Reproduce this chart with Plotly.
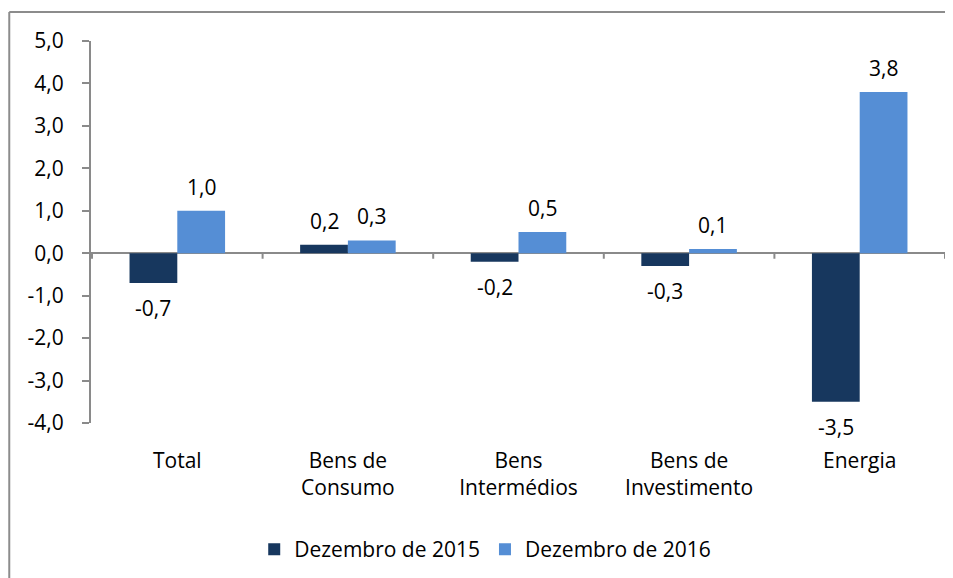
import plotly.graph_objects as go

categories = ["Total", "Bens de<br>Consumo", "Bens<br>Intermédios", "Bens de<br>Investimento", "Energia"]
dez_2015 = [-0.7, 0.2, -0.2, -0.3, -3.5]
dez_2016 = [1.0, 0.3, 0.5, 0.1, 3.8]
series_names = ["Dezembro de 2015", "Dezembro de 2016"]
colors = ["#17375E", "#558ED5"]
y_tickvals = [5, 4, 3, 2, 1, 0, -1, -2, -3, -4]
y_ticktext = ["5,0", "4,0", "3,0", "2,0", "1,0", "0,0", "-1,0", "-2,0", "-3,0", "-4,0"]

FONT = "Open Sans"
FS = 21
AXIS_COLOR = "#8a8a8a"
BARGAP = 0.44


def fmt(v):
    return f"{v:.1f}".replace(".", ",")


fig = go.Figure()
for name, vals, col in zip(series_names, [dez_2015, dez_2016], colors):
    fig.add_trace(go.Bar(x=categories, y=vals, name=name, marker=dict(color=col, line=dict(width=0))))

# data labels
bw = (1 - BARGAP) / 2
annotations = []
for si, vals in enumerate([dez_2015, dez_2016]):
    off = (-0.5 + si) * bw
    for i, v in enumerate(vals):
        annotations.append(dict(
            x=i + off, y=v, xref="x", yref="y", text=fmt(v), showarrow=False,
            yanchor="middle", yshift=24 if v >= 0 else -25,
            font=dict(family=FONT, size=FS, color="#000000"),
        ))

# category boundary tick marks on the zero line
shapes = []
for i in range(len(categories) + 1):
    shapes.append(dict(type="line", xref="x", yref="y", x0=i - 0.5, x1=i - 0.5, y0=0, y1=-0.13,
                       line=dict(color=AXIS_COLOR, width=2)))
# chart border (only top and left edges visible in the frame)
shapes.append(dict(type="line", xref="paper", yref="paper", x0=-0.0956, x1=1.3, y0=1.076, y1=1.076,
                   line=dict(color="#8c8c8c", width=2), layer="below"))
shapes.append(dict(type="line", xref="paper", yref="paper", x0=-0.0956, x1=-0.0956, y0=-0.6, y1=1.076,
                   line=dict(color="#8c8c8c", width=2), layer="below"))

fig.update_layout(
    width=945, height=570,
    margin=dict(l=83, r=7, t=33, b=155),
    paper_bgcolor="white", plot_bgcolor="white",
    barmode="group", bargap=BARGAP, bargroupgap=0,
    font=dict(family=FONT, size=FS, color="#000000"),
    showlegend=True,
    legend=dict(orientation="h", xref="container", yref="container", x=0.505, xanchor="center",
                y=0.05, yanchor="middle", font=dict(family=FONT, size=FS), itemwidth=30,
                traceorder="normal"),
    annotations=annotations,
    shapes=shapes,
)
fig.update_xaxes(showline=False, ticks="", showgrid=False, zeroline=False,
                 tickfont=dict(family=FONT, size=FS), ticklabelstandoff=23)
fig.update_yaxes(range=[-4, 5], tickvals=y_tickvals, ticktext=y_ticktext, showgrid=False,
                 showline=True, linecolor=AXIS_COLOR, linewidth=2, ticks="outside", ticklen=7,
                 tickcolor=AXIS_COLOR, tickwidth=2, zeroline=True, zerolinecolor=AXIS_COLOR,
                 zerolinewidth=2, tickfont=dict(family=FONT, size=FS), ticklabelstandoff=14)

fig.write_html("out.html")
